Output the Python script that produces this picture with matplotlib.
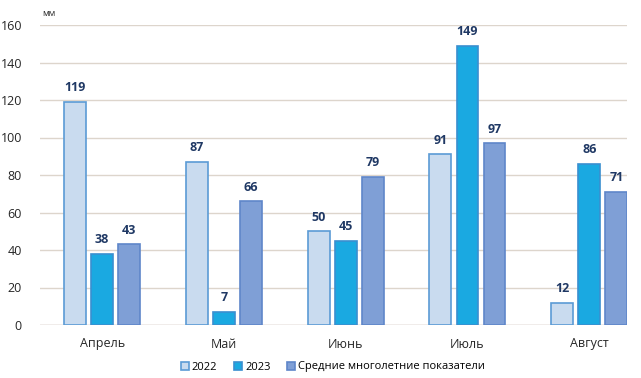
import matplotlib
matplotlib.use("Agg")
import matplotlib.pyplot as plt
import numpy as np

plt.rcParams['font.family'] = ['Open Sans', 'DejaVu Sans']

months = ["Апрель", "Май", "Июнь", "Июль", "Август"]
series_names = ["2022", "2023", "Средние многолетние показатели"]
v2022 = [119, 87, 50, 91, 12]
v2023 = [38, 7, 45, 149, 86]
vavg = [43, 66, 79, 97, 71]
yticks = [0, 20, 40, 60, 80, 100, 120, 140, 160]

faces = ["#c9dbef", "#1aa9e1", "#7f9fd6"]
edges = ["#5b9bd5", "#3a8fd0", "#5f86c9"]

fig = plt.figure(figsize=(6.41, 3.78), dpi=100)
ax = fig.add_axes([40/641, 53/378, 587/641, 300/378])

x = np.arange(len(months))
w = 0.18
off = 0.222
for i, (vals, fc, ec, name) in enumerate(zip([v2022, v2023, vavg], faces, edges, series_names)):
    pos = x + (i - 1) * off
    ax.bar(pos, vals, width=w, color=fc, edgecolor=ec, linewidth=1.2, label=name, zorder=3)
    for p, v in zip(pos, vals):
        ax.text(p, v + 4, str(v), ha="center", va="bottom", fontsize=9,
                fontweight="bold", color="#1f3864")

ax.set_ylim(0, 160)
ax.set_xlim(-0.51, 4.31)
ax.set_yticks(yticks)
ax.set_yticklabels([str(t) for t in yticks], fontsize=9, color="#262626")
ax.set_xticks(x)
ax.set_xticklabels(months, fontsize=9, color="#262626")
ax.tick_params(axis="both", length=0)
ax.tick_params(axis="y", pad=13)
ax.tick_params(axis="x", pad=9)
ax.grid(axis="y", color="#ddd5cc", linewidth=1.0, zorder=0)
for s in ["top", "right", "left", "bottom"]:
    ax.spines[s].set_visible(False)
ax.axhline(0, color="#d0c8c0", linewidth=1.0, zorder=2)

fig.text(42/641, 1 - 14/378, "мм", fontsize=6.5, color="#262626", va="center", ha="left")

fig.legend(loc="center", bbox_to_anchor=(333/641, 1 - 367/378), ncol=3, frameon=False,
           fontsize=8, handlelength=0.7, handleheight=0.7, handletextpad=0.3,
           columnspacing=1.5)

fig.savefig("out.png", dpi=100)
